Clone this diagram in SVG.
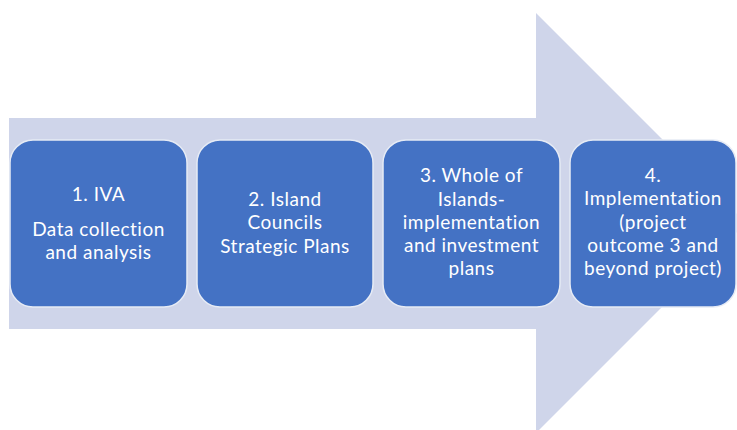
<svg xmlns="http://www.w3.org/2000/svg" width="737" height="430" viewBox="0 0 737 430">
<style>
.box{fill:#4472C4;stroke:#E6EBF5;stroke-width:1.5}
.t{font-family:Lato,"Open Sans","Liberation Sans",sans-serif;font-size:19px;letter-spacing:0.5px;fill:#FFFFFF;text-anchor:middle}
</style>
<rect width="737" height="430" fill="#FFFFFF"/>
<g id="arrow">
<polygon points="9,118 536,118 536,13 746,223 536,433 536,329 9,329" fill="#CFD5EA"/>
</g>
<g id="connectors"></g>
<g id="node1">
<rect class="box" x="10" y="140" width="177" height="167" rx="23"/>
<text class="t" x="98.5" y="201">1. IVA</text>
<text class="t" x="98.5" y="236">Data collection</text>
<text class="t" x="98.5" y="259">and analysis</text>
</g>
<g id="node2">
<rect class="box" x="197" y="140" width="176" height="167" rx="23"/>
<text class="t" x="285" y="206">2. Island</text>
<text class="t" x="285" y="229">Councils</text>
<text class="t" x="285" y="253">Strategic Plans</text>
</g>
<g id="node3">
<rect class="box" x="383" y="140" width="177" height="167" rx="23"/>
<text class="t" x="471.5" y="182">3. Whole of</text>
<text class="t" x="471.5" y="206">Islands-</text>
<text class="t" x="471.5" y="229">implementation</text>
<text class="t" x="471.5" y="252">and investment</text>
<text class="t" x="471.5" y="275">plans</text>
</g>
<g id="node4">
<rect class="box" x="570" y="140" width="166" height="167" rx="23"/>
<text class="t" x="653" y="182">4.</text>
<text class="t" x="653" y="205">Implementation</text>
<text class="t" x="653" y="229">(project</text>
<text class="t" x="653" y="252">outcome 3 and</text>
<text class="t" x="653" y="275">beyond project)</text>
</g>
</svg>
